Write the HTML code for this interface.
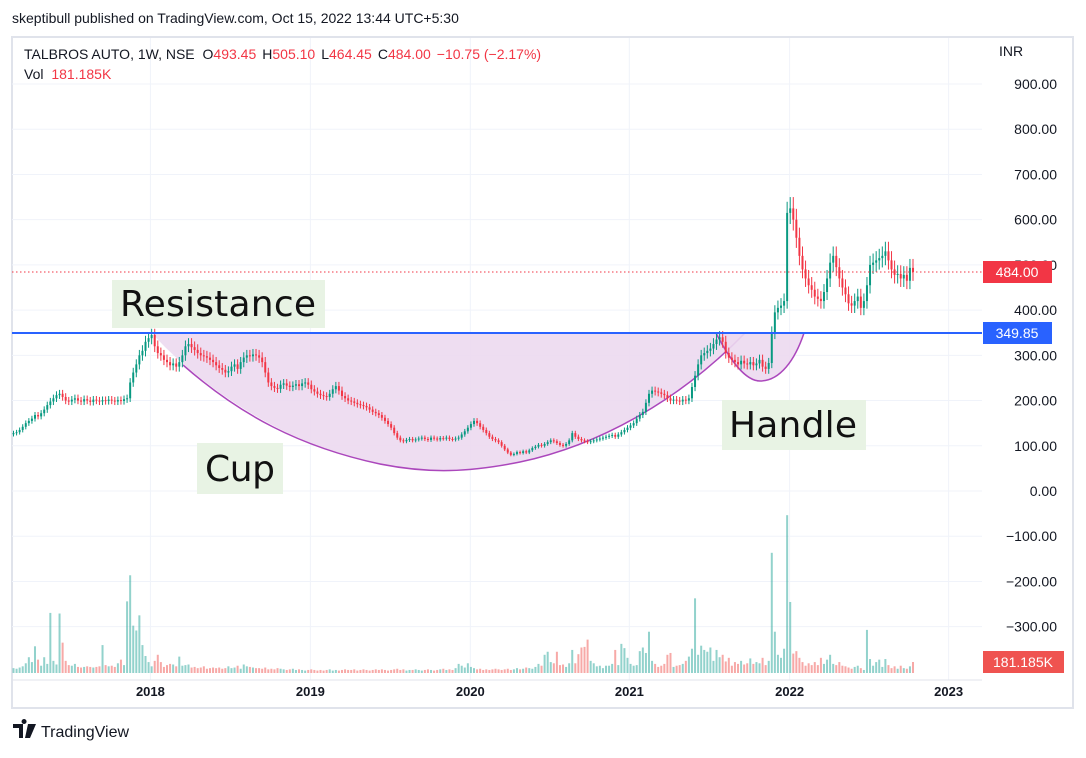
<!DOCTYPE html>
<html><head><meta charset="utf-8">
<style>
html,body{margin:0;padding:0;background:#fff;}
body{width:1086px;height:753px;overflow:hidden;font-family:"Liberation Sans",sans-serif;}
svg text{font-family:"Liberation Sans",sans-serif;}
</style></head>
<body>
<svg id="chart" width="1086" height="753" viewBox="0 0 1086 753">
  <text x="12" y="23" font-size="14" fill="#131722">skeptibull published on TradingView.com, Oct 15, 2022 13:44 UTC+5:30</text>
  <rect x="12" y="37" width="1061" height="671" fill="none" stroke="#e0e3eb" stroke-width="2"/>
  <g id="grid"></g>
  <g id="overlay">
    <path d="M152,333 C175,360 260,440 380,464 C430,474 470,472 520,462 C600,445 680,400 745,333 Z" fill="#ecd9f0" fill-opacity="0.9"/>
    <path d="M183,365 C240,415 300,447 380,464 C430,474 470,472 520,462 C600,445 680,400 745,333" fill="none" stroke="#ab47bc" stroke-width="1.5"/>
    <path d="M716,333 C730,360 745,381 760,381 C780,381 795,360 804,333 Z" fill="#ecd9f0" fill-opacity="0.9"/>
    <path d="M716,333 C730,360 745,381 760,381 C780,381 795,360 804,333" fill="none" stroke="#ab47bc" stroke-width="1.5"/>
  </g>
  <g id="vols"></g>
  <g id="candles"></g>
  <line x1="12" y1="333" x2="982" y2="333" stroke="#2962ff" stroke-width="2"/>
  <line x1="12" y1="272" x2="982" y2="272" stroke="#f23645" stroke-width="1" stroke-dasharray="1.5,2.5"/>
  <g>
    <rect x="112" y="280" width="213" height="48" fill="#e8f3e4"/>
    <text x="120" y="316" font-size="36" fill="#111" style="font-family:'DejaVu Sans',sans-serif" textLength="196">Resistance</text>
  </g>
  <g>
    <rect x="197" y="443" width="86" height="51" fill="#e8f3e4"/>
    <text x="205" y="481" font-size="36" fill="#111" style="font-family:'DejaVu Sans',sans-serif" textLength="70">Cup</text>
  </g>
  <g>
    <rect x="722" y="400" width="144" height="50" fill="#e8f3e4"/>
    <text x="729" y="437" font-size="36" fill="#111" style="font-family:'DejaVu Sans',sans-serif" textLength="128">Handle</text>
  </g>
  <g id="yaxis"></g>
  <g id="xaxis"></g>
  <text x="24" y="59" font-size="14" fill="#131722">TALBROS AUTO, 1W, NSE <tspan dx="4">O</tspan><tspan fill="#f23645">493.45</tspan><tspan dx="6">H</tspan><tspan fill="#f23645">505.10</tspan><tspan dx="6">L</tspan><tspan fill="#f23645">464.45</tspan><tspan dx="6">C</tspan><tspan fill="#f23645">484.00</tspan><tspan dx="6" fill="#f23645">−10.75 (−2.17%)</tspan></text>
  <text x="24" y="79" font-size="14" fill="#131722">Vol <tspan dx="4" fill="#f23645">181.185K</tspan></text>
  <text x="999" y="56" font-size="14" fill="#131722">INR</text>
  <g><rect x="983" y="261" width="69" height="22" fill="#f23645"/><text x="1017" y="277" font-size="14" fill="#fff" text-anchor="middle">484.00</text></g>
  <g><rect x="983" y="322" width="69" height="22" fill="#2962ff"/><text x="1017" y="338" font-size="14" fill="#fff" text-anchor="middle">349.85</text></g>
  <g><rect x="983" y="651" width="81" height="22" fill="#ef5350"/><text x="1023" y="667" font-size="14" fill="#fff" text-anchor="middle">181.185K</text></g>
  <g>
    <path d="M13,724 h10 v14 h-4 v-10 h-6 z M24,724 a2.5,2.5 0 1 1 0.1,0 z M28,724 h8 l-6,14 h-5 z" fill="#131722"/>
    <text x="41" y="737" font-size="16" fill="#131722">TradingView</text>
  </g>
</svg>
<script>
const closes = [
128,130,135,142,150,155,160,168,165,172,
180,190,198,205,212,215,208,200,198,202,
205,200,198,203,200,197,202,200,198,201,
199,202,200,198,201,199,203,205,240,262,
280,300,310,330,338,345,320,305,300,290,
285,278,282,275,285,300,320,325,318,312,
305,300,298,295,290,285,278,272,268,262,
265,275,280,270,285,295,300,298,302,300,
295,285,262,240,232,228,226,235,238,233,
230,233,236,232,238,240,235,225,220,215,
212,210,208,215,225,232,222,210,205,200,
198,195,192,190,188,185,180,175,172,168,
162,155,148,140,128,118,112,110,113,115,
112,114,116,118,115,113,118,116,114,117,
116,118,115,114,116,118,125,132,140,148,
155,150,142,135,128,120,115,112,108,100,
92,85,80,82,86,84,88,85,90,95,
98,102,100,104,108,112,110,106,102,100,
104,112,128,120,115,112,110,108,110,112,
114,116,118,120,122,124,120,125,130,135,
140,145,150,160,168,175,195,215,222,220,
218,215,212,205,200,202,200,198,202,200,
205,230,255,280,300,305,310,315,325,335,
340,330,305,295,290,285,280,288,282,280,
285,278,282,290,275,270,283,350,395,405,
410,420,615,625,600,560,520,490,470,455,
445,430,425,420,440,470,505,520,495,470,
450,435,415,410,420,430,405,420,455,500,
505,510,515,520,530,510,490,478,480,470,
478,465,493.45,484];
const volumes = [
80,70,90,110,160,260,180,440,220,120,
260,150,990,200,140,980,500,200,130,120,
150,100,90,100,110,100,90,100,110,460,
130,110,120,100,160,220,130,1180,1610,780,
700,950,460,280,180,110,200,300,180,100,
130,150,140,110,270,120,130,140,90,100,
80,90,110,70,80,90,80,90,70,80,
110,80,90,120,70,140,110,100,90,80,
80,70,90,60,70,60,80,70,60,50,
60,70,50,60,50,40,50,60,50,40,
50,40,50,60,40,50,40,50,60,50,
50,60,40,50,60,50,40,50,60,50,
60,50,40,50,60,70,50,60,40,50,
50,60,50,40,50,60,50,40,50,60,
70,50,60,50,80,150,120,90,160,100,
80,60,70,50,60,50,60,70,60,50,
60,70,50,60,80,60,70,90,80,70,
100,150,120,300,350,180,160,350,130,140,
100,160,380,160,310,420,430,550,200,160,
110,120,80,120,120,150,380,130,480,410,
250,150,120,130,360,420,330,680,200,150,
100,120,150,300,330,100,120,130,150,200,
270,400,1230,300,450,380,350,420,200,380,
260,300,190,250,120,180,150,200,140,160,
240,150,180,160,250,130,200,1980,680,300,
250,400,2600,1170,320,360,250,180,120,160,
130,180,130,250,150,220,300,150,130,180,
120,110,90,70,100,120,80,50,710,230,
120,180,220,100,230,130,80,110,70,120,
80,70,110,181.185];
const priceTicks = [900,800,700,600,500,400,300,200,100,0,-100,-200,-300];
const priceTickLabels = ["900.00","800.00","700.00","600.00","500.00","400.00","300.00","200.00","100.00","0.00","−100.00","−200.00","−300.00"];
const yearIdx = [44.6,96.7,148.8,200.6,252.8,304.6];
const yearLabels = ["2018","2019","2020","2021","2022","2023"];

const NS = "http://www.w3.org/2000/svg";
const yP = p => 491 - p * 0.4522;
const xI = i => 13.5 + i * 3.07;
const yV = v => 673 - v * 0.0607;
function mk(tag, attrs, parent){ const e=document.createElementNS(NS,tag); for(const k in attrs) e.setAttribute(k,attrs[k]); parent.appendChild(e); return e; }

const grid=document.getElementById('grid'), yaxis=document.getElementById('yaxis'), xaxis=document.getElementById('xaxis');
priceTicks.forEach((p,k)=>{
  const gl=mk('line',{x1:12,x2:982,y1:yP(p),y2:yP(p),stroke:'#f0f3fa','stroke-width':1},grid);
  
  
  const t=mk('text',{x:1057,y:yP(p)+5,'font-size':14,fill:'#131722','text-anchor':'end'},yaxis);
  t.textContent=priceTickLabels[k];
  
  
});
yearIdx.forEach((i,k)=>{
  const gl=mk('line',{x1:xI(i),x2:xI(i),y1:38,y2:680,stroke:'#f0f3fa','stroke-width':1},grid);
  
  
  const t=mk('text',{x:xI(i),y:696,'font-size':13,'font-weight':'bold',fill:'#131722','text-anchor':'middle'},xaxis);
  t.textContent=yearLabels[k];
  
  
});
mk('line',{x1:12,x2:982,y1:680,y2:680,stroke:'#e0e3eb','stroke-width':1},grid);

const cg=document.getElementById('candles'), vg=document.getElementById('vols');
closes.forEach((c,i)=>{
  const o = i===0 ? c*0.98 : closes[i-1];
  const up = c>=o;
  const col = up ? '#089981' : '#f23645';
  const hi = Math.max(o,c)*1.04, lo = Math.min(o,c)*0.96;
  const x=xI(i);
  const w=mk('line',{x1:x,x2:x,y1:yP(hi),y2:yP(lo),stroke:col,'stroke-width':1},cg);
  
  
  const top=yP(Math.max(o,c)), bot=yP(Math.min(o,c));
  const b=mk('rect',{x:x-1,y:top,width:2,height:Math.max(1,bot-top),fill:col},cg);
  
  
  const v=volumes[i];
  const vb=mk('rect',{x:x-1,y:yV(v),width:2,height:673-yV(v),fill:up?'#26a69a':'#ef5350','fill-opacity':0.5},vg);
  
  
});
</script>
</body></html>
